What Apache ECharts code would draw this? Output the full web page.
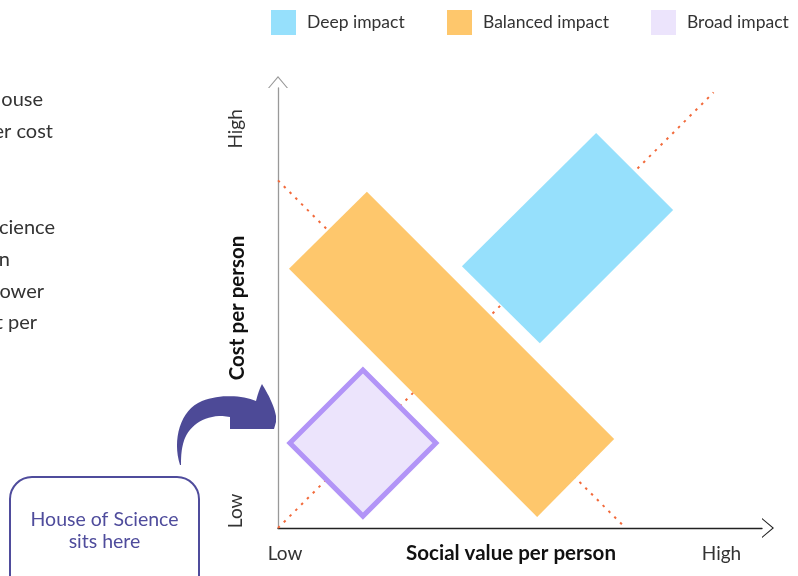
<!DOCTYPE html>
<html>
<head>
<meta charset="utf-8">
<script src="https://cdn.jsdelivr.net/npm/echarts@6/dist/echarts.min.js"></script>
<style>
  html, body { margin: 0; padding: 0; background: #fff; }
  #chart { width: 798px; height: 576px; }
</style>
</head>
<body>
<div id="chart"></div>
<script>
// Zone names and colours
const zoneNames = ['Deep impact', 'Balanced impact', 'Broad impact'];
const zoneFill = ['#96e0fc', '#fec76c', '#ece4fc'];

// Zone outlines: four corners each, [x, y] in axis units (0 = Low)
const deepZone = [[7.23, 8.98], [8.98, 7.23], [5.95, 4.20], [4.18, 5.95]];
const balancedZone = [[2.02, 7.64], [7.64, 2.02], [5.89, 0.25], [0.25, 5.89]];
const broadZone = [[1.93, 3.59], [3.59, 1.93], [1.93, 0.27], [0.27, 1.93]];

// Dotted guide lines
const valueEqualsCost = [[0, 0], [9.9, 9.9]];
const tradeOffLine = [[0, 7.9], [7.9, 0]];

// Axis ends
const xTickValues = [0.16, 10.08];
const yTickValues = [0.39, 9.07];
const tickText = ['Low', 'High'];

const FONT = 'Lato';

function polygonRenderer(fill, stroke, strokeWidth) {
  return function (params, api) {
    if (params.dataIndex !== 0) return;
    const pts = [];
    for (let i = 0; i < 4; i++) {
      pts.push(api.coord([api.value(i * 2), api.value(i * 2 + 1)]));
    }
    return {
      type: 'polygon',
      shape: { points: pts },
      style: { fill: fill, stroke: stroke || null, lineWidth: strokeWidth || 0, lineJoin: 'miter' }
    };
  };
}

function flat(zone) {
  return [zone.reduce((a, p) => a.concat(p), [])];
}

// Outline builder for the curved pointer: straight segments and cubic curves
function buildOutline(start, segments) {
  const pts = [start.slice()];
  let cur = start;
  segments.forEach(function (seg) {
    if (seg.length === 2) {
      pts.push(seg.slice());
      cur = seg;
    } else {
      const c1 = [seg[0], seg[1]], c2 = [seg[2], seg[3]], end = [seg[4], seg[5]];
      for (let i = 1; i <= 16; i++) {
        const t = i / 16, u = 1 - t;
        pts.push([
          u * u * u * cur[0] + 3 * u * u * t * c1[0] + 3 * u * t * t * c2[0] + t * t * t * end[0],
          u * u * u * cur[1] + 3 * u * u * t * c1[1] + 3 * u * t * t * c2[1] + t * t * t * end[1]
        ]);
      }
      cur = end;
    }
  });
  return pts;
}

const pointerOutline = buildOutline([180, 465], [
  [172, 440, 180, 410, 202, 401],
  [220, 394, 242, 395, 256, 401],
  [258, 393, 260, 388, 262, 384],
  [268, 394, 274, 405, 276, 416],
  [276, 422], [274, 429], [230, 429], [230, 417],
  [210, 413, 192, 422, 185, 438],
  [181, 448, 181, 458, 181, 465]
]);

const chevron = 'path://M0,12 L10,0 L20,12 L18.7,12 L10,1.7 L1.3,12 Z';

const chart = echarts.init(document.getElementById('chart'), null, { renderer: 'canvas' });

const legendLeft = [271, 447, 651];

const textLine = (str, x, y) => ({
  type: 'text', x: x, y: y,
  style: { text: str, align: 'right', verticalAlign: 'middle', fontFamily: FONT, fontSize: 20, fill: '#333' }
});

chart.setOption({
  animation: false,
  backgroundColor: '#ffffff',
  textStyle: { fontFamily: FONT },
  grid: { left: 278, top: 88, width: 484, height: 440, containLabel: false, outerBoundsMode: 'none' },
  legend: zoneNames.map((name, i) => ({
    data: [name],
    left: legendLeft[i],
    top: 10,
    padding: 0,
    itemWidth: 25,
    itemHeight: 25,
    icon: 'rect',
    itemStyle: { borderWidth: 0 },
    selectedMode: false,
    textStyle: { fontFamily: FONT, fontSize: 17.5, color: '#333', padding: [0, 0, 0, 6] }
  })),
  xAxis: {
    type: 'value',
    min: 0,
    max: 11,
    splitLine: { show: false },
    axisTick: { show: false },
    axisLine: {
      show: true,
      onZero: false,
      symbol: ['none', chevron],
      symbolSize: [20, 12],
      symbolOffset: [0, 6],
      lineStyle: { color: '#222', width: 1.3 }
    },
    axisLabel: {
      customValues: xTickValues,
      formatter: (v) => tickText[xTickValues.indexOf(v)],
      margin: 16,
      fontFamily: FONT,
      fontSize: 19,
      color: '#333'
    },
    name: 'Social value per person',
    nameLocation: 'middle',
    nameGap: 15,
    nameMoveOverlap: false,
    nameTextStyle: { fontFamily: FONT, fontSize: 20.5, fontWeight: 'bold', color: '#111', padding: [0, 18, 0, 0], verticalAlign: 'top' }
  },
  yAxis: {
    type: 'value',
    min: 0,
    max: 10,
    splitLine: { show: false },
    axisTick: { show: false },
    axisLine: {
      show: true,
      onZero: false,
      symbol: ['none', chevron],
      symbolSize: [20, 12],
      symbolOffset: [0, 6],
      lineStyle: { color: '#999', width: 1.3 }
    },
    axisLabel: {
      customValues: yTickValues,
      formatter: (v) => tickText[yTickValues.indexOf(v)],
      rotate: 90,
      margin: 33,
      fontFamily: FONT,
      fontSize: 19,
      color: '#333'
    },
    name: 'Cost per person',
    nameLocation: 'middle',
    nameRotate: 90,
    nameGap: 30,
    nameMoveOverlap: false,
    nameTextStyle: { fontFamily: FONT, fontSize: 20.5, fontWeight: 'bold', color: '#111' }
  },
  series: [
    {
      type: 'line',
      data: valueEqualsCost,
      symbol: 'none',
      z: 1,
      silent: true,
      lineStyle: { color: '#f26a3b', width: 2, type: [2.5, 5.7], cap: 'butt' }
    },
    {
      type: 'line',
      data: tradeOffLine,
      symbol: 'none',
      z: 1,
      silent: true,
      lineStyle: { color: '#f26a3b', width: 2, type: [2.5, 5.7], cap: 'butt' }
    },
    {
      name: zoneNames[0],
      type: 'custom',
      z: 2,
      itemStyle: { color: zoneFill[0] },
      renderItem: polygonRenderer(zoneFill[0]),
      data: flat(deepZone)
    },
    {
      name: zoneNames[1],
      type: 'custom',
      z: 2,
      itemStyle: { color: zoneFill[1] },
      renderItem: polygonRenderer(zoneFill[1]),
      data: flat(balancedZone)
    },
    {
      name: zoneNames[2],
      type: 'custom',
      z: 3,
      itemStyle: { color: zoneFill[2] },
      renderItem: polygonRenderer(zoneFill[2], '#b294f7', 5),
      data: flat(broadZone)
    }
  ],
  graphic: [
    // Side commentary (runs off the left edge)
    textLine('House', 43, 100),
    textLine('lower cost', 53, 132),
    textLine('Science', 55, 228),
    textLine('can', 10, 260),
    textLine('lower', 44, 292),
    textLine('cost per', 37, 323),
    // Callout box
    {
      type: 'rect',
      shape: { x: 10, y: 477, width: 189, height: 140, r: 22 },
      style: { fill: 'none', stroke: '#4f4c9c', lineWidth: 2 }
    },
    {
      type: 'text',
      x: 104.5, y: 531,
      style: { text: 'House of Science\nsits here', align: 'center', verticalAlign: 'middle', fontFamily: FONT, fontSize: 19.5, lineHeight: 22, fill: '#4f4c9c' }
    },
    // Curved pointer towards the low-cost corner
    {
      type: 'polygon',
      shape: { points: pointerOutline },
      style: { fill: '#4d4a97' }
    }
  ]
});
</script>
</body>
</html>
